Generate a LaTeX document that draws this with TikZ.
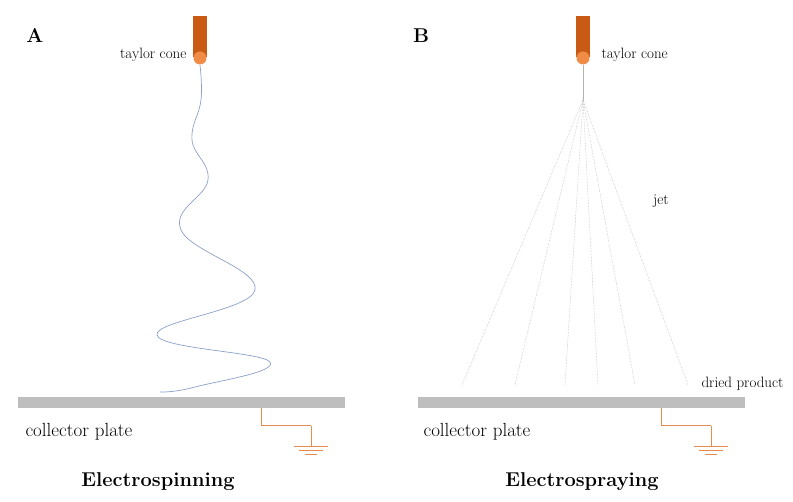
\documentclass[tikz,border=0pt]{standalone}
\usepackage{fontspec}
\usepackage{tikz}
\definecolor{needle}{RGB}{200,90,20}
\definecolor{cone}{RGB}{240,140,70}
\definecolor{fiber}{RGB}{140,160,200}
\definecolor{plategray}{RGB}{190,190,190}
\definecolor{groundor}{RGB}{230,140,80}
\begin{document}
\begin{tikzpicture}[x=1pt,y=-1pt,
    wire/.style={groundor,line width=1pt},
    jet/.style={draw=gray!60,line width=0.5pt,densely dotted},
    lbl/.style={font=\fontsize{15}{17}\selectfont},
    big/.style={font=\fontsize{19}{21}\selectfont},
    ttl/.style={font=\fontsize{20}{22}\selectfont\bfseries}]
    \useasboundingbox (0,0) rectangle (793,502);
    % panel labels
    \node[ttl] (A) at (35,36) {A};
    \node[ttl] (B) at (421,36) {B};
    % needles with taylor cones
    \foreach \n/\x in {na/200, nb/583}{
        \fill[needle] (\x-7,16) rectangle (\x+7,57);
        \fill[cone] (\x,58) circle (6.5);
        \coordinate (\n) at (\x,65);
    }
    \node[lbl,anchor=east] (tcA) at (190,55) {taylor cone};
    \node[lbl,anchor=west] (tcB) at (598,55) {taylor cone};
    % spinning fiber
    \draw[fiber,line width=0.7pt] plot[smooth,tension=0.7] coordinates {
        (200,65) (201,100) (192,140) (208,180) (181,230) (255,290)
        (157,335) (270,362) (195,387) (160,392)};
    % spraying jets
    \draw[gray!60,line width=0.6pt] (nb) -- (583,100) coordinate (src);
    \foreach \e in {462,515,565,598,635,688}{
        \draw[jet] (src) -- (\e,385);
    }
    \node[lbl] (jet) at (661,201) {jet};
    \node[lbl,anchor=west] (dp) at (698,384) {dried product};
    % collector plates with ground
    \foreach \p/\x in {pa/18,pb/418}{
        \fill[plategray] (\x,397) rectangle (\x+327,408);
        \draw[wire] (\x+243,408) -- (\x+243,426);
        \draw[wire] (\x+243,426) -- (\x+293,426);
        \draw[wire] (\x+293,426) -- (\x+293,447);
        \draw[wire] (\x+276,447) -- (\x+310,447);
        \draw[wire] (\x+281,451) -- (\x+305,451);
        \draw[wire] (\x+287,455) -- (\x+299,455);
    }
    \node[big,anchor=west] (cpA) at (22,432) {collector plate};
    \node[big,anchor=west] (cpB) at (420,432) {collector plate};
    % titles
    \node[ttl] (es) at (158,482) {Electrospinning};
    \node[ttl] (ey) at (582,482) {Electrospraying};
\end{tikzpicture}
\end{document}
